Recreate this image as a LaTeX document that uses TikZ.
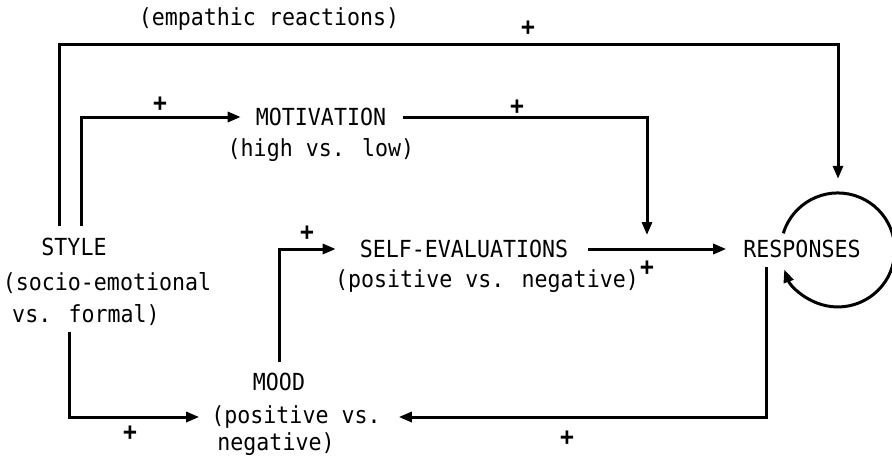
\documentclass[tikz,border=0pt]{standalone}
\usepackage{fontspec}
\newfontfamily\labelfont[FakeStretch=0.92]{DejaVu Sans Mono}
\usetikzlibrary{arrows.meta, positioning, calc}

\begin{document}
\begin{tikzpicture}[x=1pt,y=-1pt,
    every node/.style={font=\labelfont\fontsize{23.5}{26}\selectfont, inner sep=0pt},
    sign/.style={font=\labelfont\bfseries\fontsize{25}{26}\selectfont},
    arr/.style={line width=3pt, -{Triangle[length=13pt,width=10pt]}}]
    \useasboundingbox (0,0) rectangle (892,456);
    \node (emp) at (269,19) {(empathic reactions)};
    \node (style) at (74,247) {STYLE};
    \node (stylea) at (107,283) {(socio-emotional};
    \node (styleb) at (86,315) {vs. formal)};
    \node (motiv) at (321,117) {MOTIVATION};
    \node (motiva) at (321,150) {(high vs. low)};
    \node (self) at (464,249) {SELF-EVALUATIONS};
    \node (selfa) at (487,281) {(positive vs. negative)};
    \node (resp) at (802,249) {RESPONSES};
    \node (mood) at (279,382) {MOOD};
    \node (mooda) at (296,417) {(positive vs.};
    \node (moodb) at (276,444) {negative)};
    \node[circle, minimum size=114pt] (loop) at (838,250) {};
    \coordinate (sA) at (59,226);
    \coordinate (sB) at (81,226);
    \coordinate (sC) at (69,332);
    \coordinate (rB) at (766,267);
    \coordinate (join) at (647,249);
    \draw[arr] (sA) -- ++(0,-182) -| ([yshift=14pt]loop.north);
    \draw[arr] (sB) |- ([xshift=-15pt]motiv.west);
    \draw[arr] ([xshift=17pt]motiv.east) -| ([yshift=14pt]join);
    \draw[arr] ([xshift=20pt]self.east) -- ([xshift=-17pt]resp.west);
    \draw[arr] (loop.163) arc[start angle=163, end angle=-160, radius=57pt];
    \draw[arr] (rB) |- ([xshift=18pt]mooda.east);
    \draw[arr] (sC) |- ([xshift=-12pt]mooda.west);
    \draw[arr] ([yshift=11pt]mood.north) |- ([xshift=-24pt]self.west);
    \node[sign] (p1) at (528,28) {+};
    \node[sign] (p2) at (160,104) {+};
    \node[sign] (p3) at (517,107) {+};
    \node[sign] (p4) at (307,233) {+};
    \node[sign] (p5) at (647,268) {+};
    \node[sign] (p6) at (130,433) {+};
    \node[sign] (p7) at (567,438) {+};
\end{tikzpicture}
\end{document}
